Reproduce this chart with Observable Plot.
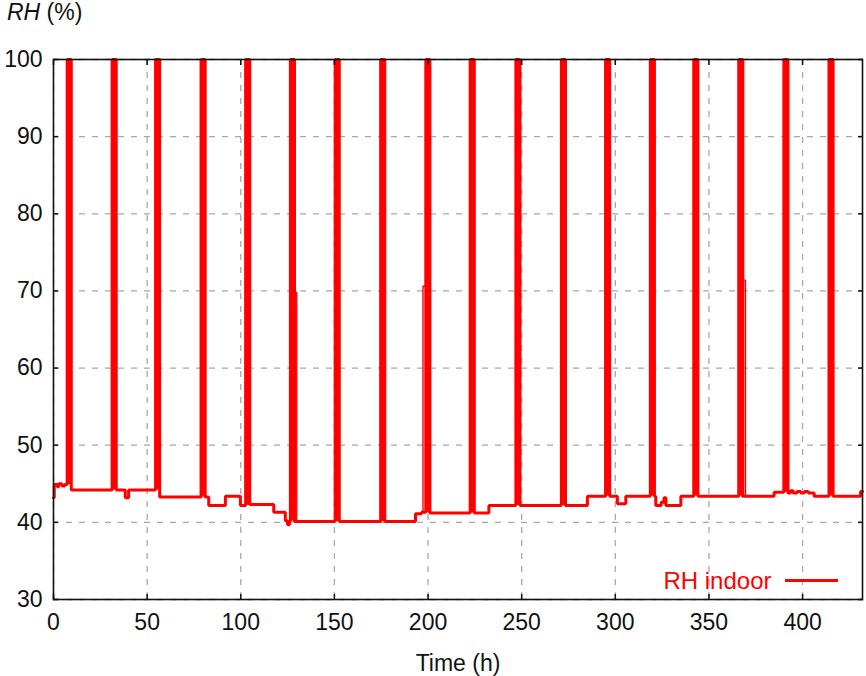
<!DOCTYPE html>
<html>
<head>
<meta charset="utf-8">
<script src="https://cdn.jsdelivr.net/npm/d3@7"></script>
<script src="https://cdn.jsdelivr.net/npm/@observablehq/plot@0.6"></script>
<style>
  html, body { margin: 0; padding: 0; background: #fff; }
  #wrap { position: relative; width: 866px; height: 676px; font-family: "Liberation Sans", Arial, sans-serif; }
  #title { position: absolute; left: 7px; top: 1px; font-size: 23px; line-height: 1; color: #111; }
  #swatch { position: absolute; left: 785px; top: 579px; width: 53px; height: 3px; background: #ff0000; }
</style>
</head>
<body>
<div id="wrap">
  <div id="chart"></div>
  <div id="title"><i>RH</i> (%)</div>
  <div id="swatch"></div>
</div>
<script>
// ---- data ----
const xTicks = [0, 50, 100, 150, 200, 250, 300, 350, 400];
const yTicks = [30, 40, 50, 60, 70, 80, 90, 100];

// baseline RH level changes (hours, %)
const baseTimes  = [0, 0.4, 2.0, 2.8, 4.5, 6.0, 8.5, 38.3, 40.1, 55.6, 82.9, 91.8, 99.8, 104.0, 117.6, 123.8, 125.0, 126.0, 128.4, 193.3, 196.5, 200.7, 232.5, 285.1, 301.1, 305.6, 321.6, 324.5, 326.0, 327.0, 335.0, 384.8, 392.0, 393.5, 395.0, 397.0, 399.0, 401.0, 403.0, 406.2, 431.0];
const baseValues = [43.2, 44.9, 44.6, 45.0, 44.7, 44.9, 44.2, 43.2, 44.2, 43.3, 42.2, 43.4, 42.2, 42.3, 41.3, 40.2, 39.7, 40.2, 40.1, 41.1, 41.3, 41.2, 42.2, 43.4, 42.4, 43.4, 42.2, 42.6, 43.2, 42.2, 43.4, 43.9, 43.8, 44.1, 43.8, 44.0, 43.8, 44.0, 43.8, 43.4, 44.0];

// saturation spikes to 100 %
const spikeStart = [7.3, 31.3, 54.5, 78.8, 102.6, 126.5, 150.4, 174.7, 198.8, 222.5, 246.9, 271.2, 294.8, 318.7, 341.9, 365.9, 390.0, 414.1];
const spikeEnd   = [9.5, 33.5, 56.7, 81.0, 104.8, 128.7, 152.6, 176.9, 201.0, 224.7, 249.1, 273.4, 297.0, 320.9, 344.1, 368.1, 392.2, 416.3];
const spikePeak = 100;

// minor spikes to ~70 %
const minorStart = [127.2, 197.3, 367.4];
const minorEnd   = [129.9, 200.4, 369.5];
const minorPeak  = [69.8, 70.6, 71.4];

const tEnd = 432;

// ---- build tables ----
function baselineAt(t) {
  let v = baseValues[0];
  for (let i = 0; i < baseTimes.length; i++) if (baseTimes[i] <= t) v = baseValues[i];
  return v;
}
const times = Array.from(new Set([...baseTimes, ...spikeStart, ...spikeEnd, tEnd])).sort((a, b) => a - b);
const series = times.map(t => {
  const inSpike = spikeStart.some((s, i) => t >= s && t < spikeEnd[i]);
  return {t, rh: inSpike ? spikePeak : baselineAt(t)};
});
const spikes = spikeStart.map((s, i) => ({t1: s, t2: spikeEnd[i], lo: baselineAt(s), hi: spikePeak}));
const minor = [];
minorStart.forEach((s, i) => {
  const b = baselineAt(s);
  minor.push({id: i, t: s, rh: b}, {id: i, t: s, rh: minorPeak[i]},
             {id: i, t: minorEnd[i], rh: minorPeak[i]}, {id: i, t: minorEnd[i], rh: b});
});

const gridStyle = {stroke: "#a8a8a8", strokeOpacity: 1, strokeWidth: 1.3, strokeDasharray: "6,7"};

const chart = Plot.plot({
  width: 866,
  height: 676,
  marginTop: 59,
  marginBottom: 77,
  marginLeft: 53,
  marginRight: 4,
  style: {fontFamily: "'Liberation Sans', Arial, sans-serif", fontSize: "23px", color: "#111", background: "#fff"},
  x: {domain: [0, tEnd]},
  y: {domain: [30, 100]},
  marks: [
    Plot.gridX(xTicks, gridStyle),
    Plot.gridY(yTicks, gridStyle),
    Plot.rect(spikes, {x1: "t1", x2: "t2", y1: "lo", y2: "hi", fill: "#ff0000"}),
    Plot.line(series, {x: "t", y: "rh", curve: "step-after", stroke: "#ff0000", strokeWidth: 3, strokeLinejoin: "miter"}),
    Plot.line(minor, {x: "t", y: "rh", z: "id", stroke: "#ff0000", strokeWidth: 1.4}),
    Plot.frame({stroke: "#111", strokeWidth: 1.6}),
    Plot.axisX(xTicks, {anchor: "bottom", tickSize: 0, tickPadding: 14, fontSize: 23, label: null}),
    Plot.axisX(xTicks, {anchor: "bottom", tickSize: 5, dy: -5, tickFormat: () => "", label: null, stroke: "#111", strokeWidth: 1.5}),
    Plot.axisX(xTicks, {anchor: "top", tickSize: 5, dy: 5, tickFormat: () => "", label: null, stroke: "#111", strokeWidth: 1.5}),
    Plot.axisY(yTicks, {anchor: "left", tickSize: 0, tickPadding: 11, fontSize: 23, label: null}),
    Plot.axisY(yTicks, {anchor: "left", tickSize: 5, dx: 5, tickFormat: () => "", label: null, stroke: "#111", strokeWidth: 1.5}),
    Plot.axisY(yTicks, {anchor: "right", tickSize: 5, dx: -5, tickFormat: () => "", label: null, stroke: "#111", strokeWidth: 1.5}),
    Plot.text(["Time (h)"], {frameAnchor: "bottom", dy: 64, lineAnchor: "middle", fontSize: 23, fill: "#111"}),
    Plot.text(["RH indoor"], {frameAnchor: "bottom-right", dx: -91, dy: -18, textAnchor: "end", lineAnchor: "middle", fontSize: 24, fill: "#ff0000"})
  ]
});
document.getElementById("chart").appendChild(chart);
</script>
</body>
</html>
